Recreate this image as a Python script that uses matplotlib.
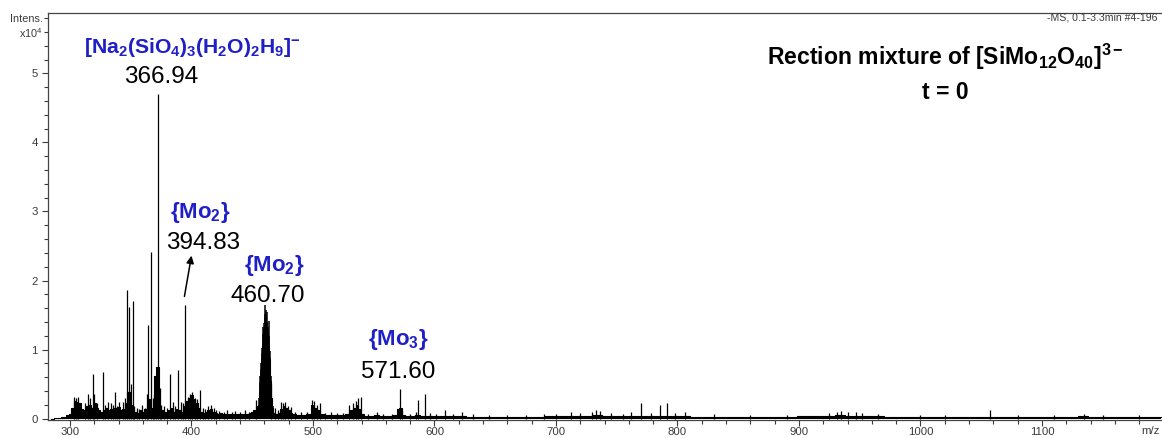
import matplotlib
matplotlib.use("Agg")
import matplotlib.pyplot as plt
from matplotlib.ticker import MultipleLocator, FixedLocator

plt.rcParams['font.family'] = ['Liberation Sans', 'DejaVu Sans']
plt.rcParams['mathtext.fontset'] = 'custom'
plt.rcParams['mathtext.rm'] = 'Liberation Sans'
plt.rcParams['mathtext.it'] = 'Liberation Sans:italic'
plt.rcParams['mathtext.bf'] = 'Liberation Sans:bold'

# ---- spectrum data (intensity in units of 1e4) ----
# dense noise floor envelope
floor_mz = [284, 286, 288, 290, 292, 294, 296, 298, 300, 302, 304, 306, 308, 310, 312, 314,
            316, 318, 320, 322, 324, 326, 328, 330, 332, 334, 336, 338, 340, 342, 344, 346,
            348, 350, 352, 354, 356, 358, 360, 362, 364, 366, 368, 370, 372, 374, 376, 378,
            380, 382, 384, 386, 388, 390, 392, 394, 396, 398, 400, 402, 404, 406, 408, 410,
            412, 414, 416, 418, 420, 422, 424, 426, 428, 430, 432, 434, 436, 438, 440, 442,
            444, 446, 448, 450, 452, 454, 455, 456, 457, 458, 459, 460, 461, 462, 463, 464,
            465, 466, 467, 468, 470, 472, 474, 476, 478, 480, 482, 484, 488, 492, 496, 500,
            502, 504, 508, 512, 516, 520, 524, 528, 532, 534, 536, 538, 540, 544, 548, 552,
            556, 560, 564, 568, 570, 572, 574, 578, 582, 586, 590, 594, 598, 602, 606, 610,
            614, 618, 622, 630, 638, 646, 654, 662, 670, 678, 686, 694, 702, 710, 718, 726,
            734, 742, 750, 758, 766, 774, 782, 790, 798, 806, 814, 822, 830, 838, 846, 854,
            862, 870, 878, 886, 894, 902, 910, 918, 926, 934, 942, 950, 958, 966, 974, 982,
            990, 998, 1006, 1014, 1022, 1030, 1038, 1046, 1054, 1062, 1070, 1078, 1086, 1094,
            1102, 1110, 1118, 1126, 1134, 1142, 1150, 1158, 1166, 1174, 1182, 1190, 1198]
floor_int = [0.0, 0.0, 0.005, 0.01, 0.01, 0.02, 0.03, 0.05, 0.07, 0.15, 0.25, 0.24, 0.22, 0.14, 0.12, 0.18,
             0.20, 0.15, 0.22, 0.15, 0.12, 0.10, 0.12, 0.15, 0.12, 0.14, 0.16, 0.15, 0.17, 0.12, 0.14, 0.22,
             0.38, 0.20, 0.14, 0.10, 0.08, 0.12, 0.10, 0.14, 0.22, 0.28, 0.15, 0.62, 0.75, 0.18, 0.12, 0.10,
             0.08, 0.12, 0.15, 0.10, 0.14, 0.12, 0.10, 0.18, 0.25, 0.30, 0.34, 0.28, 0.22, 0.15, 0.10, 0.08,
             0.10, 0.12, 0.14, 0.10, 0.08, 0.07, 0.08, 0.07, 0.06, 0.07, 0.06, 0.07, 0.06, 0.07, 0.06, 0.07,
             0.06, 0.07, 0.08, 0.10, 0.12, 0.18, 0.20, 0.35, 0.55, 0.80, 1.00, 1.15, 1.15, 1.10, 1.00, 0.85,
             0.55, 0.30, 0.15, 0.08, 0.06, 0.08, 0.14, 0.18, 0.15, 0.12, 0.08, 0.06, 0.05, 0.05, 0.06, 0.20,
             0.16, 0.12, 0.06, 0.05, 0.05, 0.05, 0.05, 0.06, 0.12, 0.16, 0.20, 0.14, 0.06, 0.04, 0.04, 0.05,
             0.04, 0.04, 0.04, 0.05, 0.14, 0.15, 0.05, 0.04, 0.04, 0.05, 0.04, 0.04, 0.04, 0.04, 0.04, 0.04,
             0.035, 0.035, 0.035, 0.03, 0.03, 0.03, 0.025, 0.03, 0.025, 0.03, 0.03, 0.035, 0.035, 0.04, 0.035, 0.04,
             0.05, 0.04, 0.035, 0.035, 0.04, 0.035, 0.04, 0.04, 0.035, 0.035, 0.03, 0.03, 0.03, 0.03, 0.03, 0.03,
             0.03, 0.03, 0.03, 0.03, 0.03, 0.035, 0.035, 0.035, 0.04, 0.05, 0.045, 0.045, 0.04, 0.035, 0.03, 0.03,
             0.03, 0.03, 0.03, 0.03, 0.03, 0.03, 0.03, 0.03, 0.03, 0.03, 0.03, 0.03, 0.03, 0.03,
             0.03, 0.03, 0.03, 0.03, 0.035, 0.03, 0.03, 0.03, 0.03, 0.03, 0.03, 0.03, 0.03]

# individual peaks
peak_mz = [347.0, 348.9, 351.6, 364.6, 366.8, 372.6, 394.83,
           303.5, 305.0, 306.5, 312.5, 314.8, 316.2, 318.7, 320.1, 322.0, 326.8, 329.0, 331.0,
           333.5, 335.0, 336.8, 338.5, 340.5, 343.6, 345.5, 350.3, 353.0, 355.5, 357.0, 359.0,
           361.5, 363.0, 368.2, 369.5, 370.8, 373.8, 375.0, 377.0, 380.0, 382.5, 384.8, 386.5,
           389.3, 391.0, 393.0, 397.0, 398.5, 400.8, 402.5, 404.5, 407.0, 409.5, 411.0, 414.0,
           416.0, 418.5, 420.5, 423.0, 426.5, 429.5, 433.0, 436.0, 440.0, 444.0, 447.5, 452.8,
           465.6, 468.6, 471.0, 473.5, 475.0, 477.0, 479.5, 482.0, 485.0, 490.0, 495.0, 499.5,
           500.8, 503.5, 506.0, 510.0, 515.0, 520.0, 525.0, 529.6, 533.0, 535.5, 537.0, 539.5,
           545.0, 552.5, 558.0, 565.0, 571.60, 573.0, 580.0, 584.4, 586.8, 592.4, 596.0, 601.0,
           608.6, 615.0, 623.0, 632.0, 645.0, 660.0, 675.0, 690.0, 700.0, 712.5, 720.0, 730.0,
           733.0, 736.0, 745.0, 755.0, 762.0, 770.3, 778.0, 785.7, 791.7, 798.0, 806.0, 830.0,
           860.0, 890.0, 925.0, 931.0, 935.0, 940.0, 947.0, 952.0, 965.0, 1000.0, 1020.0,
           1057.0, 1080.0, 1110.0, 1135.0, 1150.0, 1180.0]
peak_int = [1.86, 1.62, 1.70, 1.35, 2.41, 4.70, 1.64,
            0.32, 0.30, 0.32, 0.22, 0.36, 0.30, 0.65, 0.35, 0.22, 0.68, 0.20, 0.24,
            0.22, 0.20, 0.39, 0.18, 0.24, 0.24, 0.30, 0.50, 0.18, 0.15, 0.14, 0.20,
            0.16, 0.36, 0.30, 0.35, 0.60, 0.45, 0.20, 0.18, 0.16, 0.64, 0.24, 0.18,
            0.70, 0.24, 0.22, 0.32, 0.36, 0.38, 0.30, 0.28, 0.42, 0.15, 0.14, 0.18,
            0.20, 0.15, 0.12, 0.11, 0.10, 0.12, 0.10, 0.11, 0.10, 0.12, 0.10, 0.27,
            0.50, 0.15, 0.12, 0.24, 0.22, 0.24, 0.18, 0.17, 0.10, 0.09, 0.10, 0.27,
            0.25, 0.19, 0.22, 0.08, 0.09, 0.08, 0.08, 0.19, 0.22, 0.26, 0.30, 0.31,
            0.07, 0.10, 0.06, 0.07, 0.43, 0.12, 0.07, 0.10, 0.27, 0.36, 0.08, 0.07,
            0.12, 0.06, 0.10, 0.06, 0.05, 0.05, 0.05, 0.06, 0.07, 0.10, 0.08, 0.10,
            0.12, 0.11, 0.08, 0.07, 0.09, 0.23, 0.08, 0.19, 0.22, 0.08, 0.10, 0.06,
            0.05, 0.05, 0.08, 0.10, 0.11, 0.09, 0.10, 0.08, 0.06, 0.05, 0.05,
            0.12, 0.05, 0.05, 0.07, 0.05, 0.05]

# isotope cluster around 460.70
cluster_mz = [455.0, 455.5, 456.0, 456.4, 456.8, 457.1, 457.4, 457.7, 458.0, 458.3, 458.6,
              458.9, 459.2, 459.5, 459.8, 460.1, 460.4, 460.70, 461.0, 461.3, 461.6, 461.9,
              462.2, 462.5, 462.8, 463.1, 463.4, 463.7, 464.0, 464.3, 464.6, 464.9, 465.2,
              465.5, 465.8, 466.1, 466.4, 466.8]
cluster_int = [0.15, 0.30, 0.38, 0.52, 0.62, 0.72, 0.80, 0.88, 0.95, 1.02, 1.10,
               1.22, 1.33, 1.30, 1.38, 1.45, 1.52, 1.64, 1.58, 1.45, 1.48, 1.55,
               1.40, 1.30, 1.25, 1.33, 1.42, 1.20, 1.05, 0.98, 0.88, 0.75, 0.62,
               0.50, 0.42, 0.30, 0.25, 0.18]

x_major = [300, 400, 500, 600, 700, 800, 900, 1000, 1100]
y_major = [0, 1, 2, 3, 4, 5]

BLUE = '#1f1fc8'
GREY = '#3a3a3a'

fig = plt.figure(figsize=(11.62, 4.38), dpi=100)
ax = fig.add_axes([48 / 1162, 18 / 438, 1 - 48 / 1162, 407 / 438])
ax.set_xlim(281.9, 1198.8)
ax.set_ylim(-0.02, 5.874)

# trace
ax.fill_between(floor_mz, 0, floor_int, step='mid', color='black', lw=0)
ax.plot(floor_mz, floor_int, drawstyle='steps-mid', color='black', lw=0.8)
ax.vlines(cluster_mz, 0, cluster_int, color='black', lw=1.1)
ax.vlines(peak_mz, 0, peak_int, color='black', lw=0.9)

# axes styling
ax.spines['right'].set_visible(False)
for s in ('left', 'bottom', 'top'):
    ax.spines[s].set_color('#444444')
    ax.spines[s].set_linewidth(0.9)
ax.xaxis.set_major_locator(FixedLocator(x_major))
ax.xaxis.set_minor_locator(MultipleLocator(20))
ax.yaxis.set_major_locator(FixedLocator(y_major))
ax.yaxis.set_minor_locator(MultipleLocator(0.2))
ax.tick_params(which='major', direction='out', length=4.5, width=0.8, color=GREY,
               labelsize=8.2, labelcolor=GREY)
ax.tick_params(which='minor', direction='out', length=3, width=0.8, color=GREY)
ax.tick_params(axis='x', which='both', pad=0.8)
ax.tick_params(axis='y', which='both', pad=3)

# axis captions
fig.text(43 / 1162, 1 - 19 / 438, 'Intens.', ha='right', va='center', fontsize=7.8, color=GREY)
fig.text(43 / 1162, 1 - 33 / 438, r'x10$^{4}$', ha='right', va='center', fontsize=7.8, color=GREY)
fig.text(1047 / 1162, 1 - 18 / 438, '-MS, 0.1-3.3min #4-196', ha='left', va='center',
         fontsize=7.6, color=GREY)
fig.text(1160 / 1162, 1 - 431 / 438, 'm/z', ha='right', va='center', fontsize=8.2, color=GREY)

# peak annotations
ax.text(400.4, 5.37, r'$\mathbf{[Na_2(SiO_4)_3(H_2O)_2H_9]^{-}}$', ha='center', va='center',
        fontsize=15.2, color=BLUE)
ax.text(374.9, 4.95, '366.94', ha='center', va='center', fontsize=17.5, color='black')

ax.text(407.0, 2.98, r'$\mathbf{\{Mo_2\}}$', ha='center', va='center', fontsize=16, color=BLUE)
ax.text(409.5, 2.55, '394.83', ha='center', va='center', fontsize=17.5, color='black')
ax.annotate('', xy=(400.4, 2.40), xytext=(393.8, 1.73),
            arrowprops=dict(arrowstyle='-|>', color='black', lw=1.1, mutation_scale=11))

ax.text(467.9, 2.22, r'$\mathbf{\{Mo_2\}}$', ha='center', va='center', fontsize=16, color=BLUE)
ax.text(463.0, 1.78, '460.70', ha='center', va='center', fontsize=17.5, color='black')

ax.text(570.0, 1.15, r'$\mathbf{\{Mo_3\}}$', ha='center', va='center', fontsize=16, color=BLUE)
ax.text(570.0, 0.67, '571.60', ha='center', va='center', fontsize=17.5, color='black')

ax.text(1020.2, 5.24, r'Rection mixture of $\mathbf{[SiMo_{12}O_{40}]^{3-}}$', ha='center',
        va='center', fontsize=16.6, fontweight='bold', color='black')
ax.text(1020.2, 4.72, 't = 0', ha='center', va='center', fontsize=16.6, fontweight='bold',
        color='black')

fig.savefig('out.png', dpi=100)
